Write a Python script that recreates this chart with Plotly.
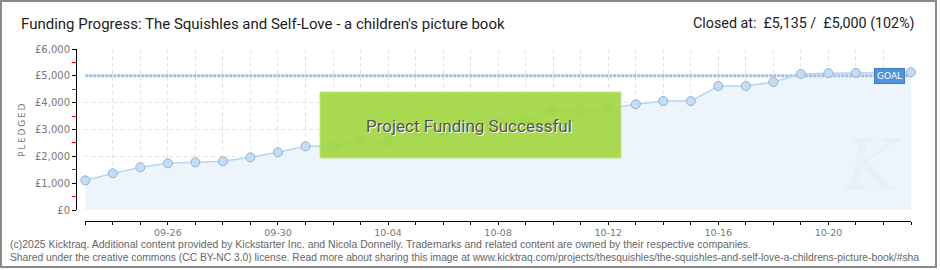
import plotly.graph_objects as go

# ---------------- data ----------------
dates = ["2025-09-23", "2025-09-24", "2025-09-25", "2025-09-26", "2025-09-27", "2025-09-28",
         "2025-09-29", "2025-09-30", "2025-10-01", "2025-10-02", "2025-10-03", "2025-10-04",
         "2025-10-05", "2025-10-06", "2025-10-07", "2025-10-08", "2025-10-09", "2025-10-10",
         "2025-10-11", "2025-10-12", "2025-10-13", "2025-10-14", "2025-10-15", "2025-10-16",
         "2025-10-17", "2025-10-18", "2025-10-19", "2025-10-20", "2025-10-21", "2025-10-22",
         "2025-10-23"]
pledged = [1105, 1365, 1590, 1740, 1778, 1815, 1964, 2150, 2374, 2374, 2572, 2572,
           2880, 2960, 3100, 3250, 3390, 3730, 3730, 3770, 3940, 4060, 4060, 4620,
           4620, 4770, 5070, 5100, 5110, 5120, 5135]
goal = 5000
y_max = 6000
title_text = "Funding Progress: The Squishles and Self-Love - a children's picture book"
status_text = "Closed at:  £5,135 /  £5,000 (102%)"
footer_1 = ("(c)2025 Kicktraq. Additional content provided by Kickstarter Inc. and Nicola Donnelly. "
            "Trademarks and related content are owned by their respective companies.")
footer_2 = ("Shared under the creative commons (CC BY-NC 3.0) license. Read more about sharing this image at "
            "www.kicktraq.com/projects/thesquishles/the-squishles-and-self-love-a-childrens-picture-book/#sha")

# ---------------- layout geometry (pixels) ----------------
W, H = 940, 270
ML, MR, MT, MB = 76, 29, 49, 49
PW = W - ML - MR
PH = H - MT - MB


def px(xp):
    return (xp - ML) / PW


def py(yp):
    return (H - MB - yp) / PH


NARROW = "Roboto, Arial"
SMALL = "DejaVu Sans, Verdana, sans-serif"

fig = go.Figure()

# area fill
fig.add_trace(go.Scatter(x=dates, y=pledged, mode="lines", line=dict(width=0, color="rgba(0,0,0,0)"),
                         fill="tozeroy", fillcolor="#edf4fc", hoverinfo="skip", showlegend=False))
# goal line
fig.add_trace(go.Scatter(x=[dates[0], dates[-1]], y=[goal, goal], mode="lines",
                         line=dict(color="#a3bfdf", width=3, dash="3px,1px"),
                         hoverinfo="skip", showlegend=False))
# pledged line + markers
fig.add_trace(go.Scatter(x=dates, y=pledged, mode="lines+markers", cliponaxis=False,
                         line=dict(color="#b7d4f2", width=1.5),
                         marker=dict(size=9, color="#c4dcf5", line=dict(color="#93b2d4", width=1)),
                         showlegend=False))

grid = dict(showgrid=True, gridcolor="#e3e3e3", griddash="4px,3px", gridwidth=1)

fig.update_layout(
    width=W, height=H,
    margin=dict(l=ML, r=MR, t=MT, b=MB, pad=0),
    paper_bgcolor="white", plot_bgcolor="white",
    template="none",
    showlegend=False,
    xaxis=dict(
        type="date", domain=[px(85.3), 1], anchor="free", position=0,
        range=[dates[0], dates[-1]],
        tick0="2025-09-26", dtick=4 * 86400000, tickformat="%m-%d",
        ticks="outside", ticklen=3, tickcolor="black", tickwidth=1,
        showline=True, linecolor="black", linewidth=1,
        tickfont=dict(family=SMALL, size=9.5, color="#777"),
        minor=dict(dtick=86400000, ticks="outside", ticklen=3, tickcolor="black",
                   showgrid=True, gridcolor="#e3e3e3", griddash="4px,3px"),
        zeroline=False, automargin=False, fixedrange=True,
        **grid,
    ),
    yaxis=dict(
        domain=[py(210), 1], anchor="free", position=0,
        range=[0, y_max], dtick=1000, tickprefix="£", tickformat=",d",
        ticks="outside", ticklen=4, tickcolor="black", tickwidth=1,
        showline=True, linecolor="black", linewidth=1,
        tickfont=dict(family=SMALL, size=10, color="#777"),
        minor=dict(dtick=500, ticks="outside", ticklen=4, tickcolor="red", showgrid=False),
        zeroline=False, automargin=False, fixedrange=True,
        **grid,
    ),
)

shapes = [
    # success banner
    dict(type="rect", xref="paper", yref="paper", x0=px(320), x1=px(621), y0=py(158), y1=py(92),
         fillcolor="rgba(160,214,62,0.9)", line=dict(color="rgba(196,232,130,1)", width=1), layer="above"),
    # outer border
    dict(type="rect", xref="paper", yref="paper", x0=px(1), x1=px(936), y0=py(267), y1=py(1),
         fillcolor="rgba(0,0,0,0)", line=dict(color="#8a8a8a", width=2), layer="above"),
]
fig.update_layout(shapes=shapes)

ann = [
    dict(text=title_text, x=px(19), y=py(24), xref="paper", yref="paper", xanchor="left", yanchor="middle",
         showarrow=False, font=dict(family=NARROW, size=15, color="#222")),
    dict(text=status_text, x=px(917), y=py(24), xref="paper", yref="paper", xanchor="right", yanchor="middle",
         showarrow=False, font=dict(family=NARROW, size=14.3, color="#222")),
    dict(text="P\u2009L\u2009E\u2009D\u2009G\u2009E\u2009D", x=px(22), y=py(130), xref="paper", yref="paper",
         xanchor="center", yanchor="middle",
         textangle=-90, showarrow=False, font=dict(family=SMALL, size=9, color="#777")),
    dict(text="Project Funding Successful", x=px(469), y=py(126), xref="paper", yref="paper",
         xanchor="center", yanchor="middle", showarrow=False,
         font=dict(family=NARROW, size=17, color="#555", shadow="1px 1px 0px #ffffff")),
    dict(text="GOAL", x="2025-10-22 05:00", y=goal, xref="x", yref="y", xanchor="center", yanchor="middle",
         showarrow=False, bgcolor="#4f93da", bordercolor="#3b7fc8", borderwidth=1, borderpad=2,
         font=dict(family=SMALL, size=9, color="white")),
    dict(text="<i>K</i>", x=px(872), y=py(165), xref="paper", yref="paper", xanchor="center", yanchor="middle",
         showarrow=False, font=dict(family="DejaVu Serif", size=70, color="rgba(229,237,246,0.7)")),
    dict(text=footer_1, x=px(8), y=py(244), xref="paper", yref="paper", xanchor="left", yanchor="middle",
         showarrow=False, font=dict(family="Liberation Sans, Arial", size=10.5, color="#666")),
    dict(text=footer_2, x=px(8), y=py(257), xref="paper", yref="paper", xanchor="left", yanchor="middle",
         showarrow=False, font=dict(family="Liberation Sans, Arial", size=10.3, color="#666")),
]
fig.update_layout(annotations=ann)

fig.write_html("out.html")
